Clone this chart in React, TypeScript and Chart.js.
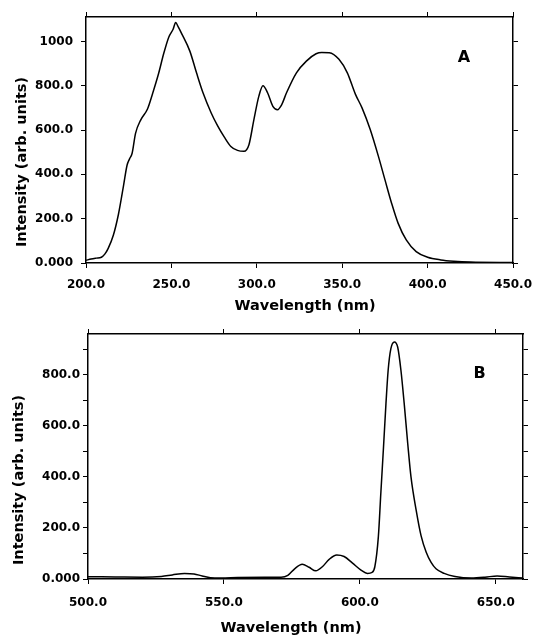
import React, { useEffect, useRef } from "react";
import { Chart, registerables } from "chart.js";

Chart.register(...registerables);

// Panel A: excitation spectrum
const wavelengthA = [
  200, 203, 206, 209, 211, 213, 216, 219, 222, 224, 225.5, 227, 229, 232, 236, 239, 242.5, 245.5,
  248.5, 251, 252.5, 254, 256, 260.8, 264.7, 268.5, 273.3, 277, 281, 284.8, 288.7, 292.5, 295.4,
  298.3, 301.2, 303.6, 306.3, 309.4, 312.1, 314.6, 317.4, 323.2, 329, 334.7, 338, 342.4, 348.1,
  353, 357.7, 361.6, 366.4, 371.2, 375, 378.9, 382.7, 387.5, 393.3, 400, 407.7, 415.3, 425, 450,
];
const intensityA = [
  12, 18, 22, 26, 40, 66, 125, 220, 350, 440, 470, 495, 585, 645, 695, 765, 855, 945,
  1020, 1055, 1085, 1065, 1035, 956, 858, 768, 677, 620, 568, 526, 508, 504, 534,
  647, 753, 800, 768, 707, 692, 715, 768, 858, 911, 944, 950, 949, 919,
  858, 762, 700, 602, 481, 376, 270, 180, 104, 51, 26, 14, 8, 4, 2,
];

// Panel B: emission spectrum
const wavelengthB = [
  500, 510, 520, 527, 531, 535.5, 539, 542, 545, 549, 555, 565, 571, 573.5, 576, 578.8, 581.3,
  583.8, 586.2, 588.7, 591.5, 594.2, 597.3, 600.4, 602.8, 604.5, 605.5, 606.8, 607.7, 608.7,
  609.6, 610.4, 611.4, 612.7, 613.9, 615.1, 616.3, 617.6, 618.8, 620.7, 622.5, 624.4, 626.2,
  628, 631, 635, 641, 646, 650.5, 655, 660,
];
const intensityB = [
  9, 8, 7, 10, 16, 22, 20, 12, 5, 4, 6, 7, 7, 14, 40, 58, 46,
  32, 48, 77, 94, 88, 62, 35, 22, 26, 48, 166, 335, 518,
  688, 818, 903, 929, 909, 818, 688, 531, 400, 270, 170, 105, 65,
  40, 22, 10, 4, 7, 12, 8, 4,
];

const axisTitleX = "Wavelength (nm)";
const axisTitleY = "Intensity (arb. units)";

const tickFont = { family: "DejaVu Sans", size: 12, weight: "bold" as const };
const titleFont = "bold 14.5px 'DejaVu Sans'";
const letterFont = "bold 16px 'DejaVu Sans'";

const fmtX = (v: number) => v.toFixed(1);
const fmtYA = (v: number) => (v === 0 ? "0.000" : v >= 1000 ? String(v) : v.toFixed(1));
const fmtYB = (v: number) => (v % 200 !== 0 ? "" : v === 0 ? "0.000" : v.toFixed(1));

type TextItem = { text: string; x: number; y: number; rot?: number; font: string; baseline: CanvasTextBaseline };

function textPlugin(items: TextItem[]) {
  return {
    id: "panelText",
    afterDraw(chart: any) {
      const ctx = chart.ctx as CanvasRenderingContext2D;
      items.forEach((it) => {
        ctx.save();
        ctx.font = it.font;
        ctx.fillStyle = "#000";
        ctx.textAlign = "center";
        ctx.textBaseline = it.baseline;
        ctx.translate(it.x, it.y);
        if (it.rot) ctx.rotate(it.rot);
        ctx.fillText(it.text, 0, 0);
        ctx.restore();
      });
    },
  };
}

type PanelOpts = {
  xs: number[];
  ys: number[];
  xmin: number;
  xmax: number;
  ymax: number;
  ystep: number;
  fmtY: (v: number) => string;
  left: number;
  right: number;
  top: number;
  bottom: number;
  xPad: number;
  yPad: number;
  texts: TextItem[];
};

function makeConfig(p: PanelOpts): any {
  const grid = {
    display: true,
    drawOnChartArea: false,
    drawTicks: true,
    tickLength: 5,
    color: "#000",
    lineWidth: 1,
  };
  const border = { display: true, color: "#000", width: 1.5 };
  return {
    type: "line",
    data: {
      datasets: [
        {
          data: p.xs.map((x, i) => ({ x, y: p.ys[i] })),
          borderColor: "#000",
          borderWidth: 1.5,
          pointRadius: 0,
          fill: false,
          cubicInterpolationMode: "monotone",
          xAxisID: "x",
          yAxisID: "y",
        },
      ],
    },
    options: {
      responsive: false,
      animation: false,
      devicePixelRatio: 1,
      layout: { padding: 0 },
      plugins: { legend: { display: false }, tooltip: { enabled: false } },
      scales: {
        x: {
          type: "linear",
          axis: "x",
          position: "bottom",
          min: p.xmin,
          max: p.xmax,
          ticks: {
            stepSize: 50,
            includeBounds: false,
            callback: (v: number) => fmtX(v),
            font: tickFont,
            color: "#000",
            padding: p.xPad,
            maxRotation: 0,
          },
          grid,
          border,
          afterFit: (s: any) => {
            s.height = p.bottom;
          },
        },
        x2: {
          type: "linear",
          axis: "x",
          position: "top",
          min: p.xmin,
          max: p.xmax,
          ticks: { stepSize: 50, includeBounds: false, display: false },
          grid,
          border,
          afterFit: (s: any) => {
            s.height = p.top;
          },
        },
        y: {
          type: "linear",
          axis: "y",
          position: "left",
          min: 0,
          max: p.ymax,
          ticks: {
            stepSize: p.ystep,
            includeBounds: false,
            callback: (v: number) => p.fmtY(v),
            font: tickFont,
            color: "#000",
            padding: p.yPad,
          },
          grid,
          border,
          afterFit: (s: any) => {
            s.width = p.left;
          },
        },
        y2: {
          type: "linear",
          axis: "y",
          position: "right",
          min: 0,
          max: p.ymax,
          ticks: { stepSize: p.ystep, includeBounds: false, display: false },
          grid,
          border,
          afterFit: (s: any) => {
            s.width = p.right;
          },
        },
      },
    },
    plugins: [textPlugin(p.texts)],
  };
}

export default function App() {
  const refA = useRef<HTMLCanvasElement>(null);
  const refB = useRef<HTMLCanvasElement>(null);

  useEffect(() => {
    const a = new Chart(
      refA.current!,
      makeConfig({
        xs: wavelengthA,
        ys: intensityA,
        xmin: 200,
        xmax: 450,
        ymax: 1110,
        ystep: 200,
        fmtY: fmtYA,
        left: 86,
        right: 22,
        top: 17,
        bottom: 55,
        xPad: 10,
        yPad: 8,
        texts: [
          { text: axisTitleX, x: 305, y: 310, font: titleFont, baseline: "alphabetic" },
          { text: axisTitleY, x: 22, y: 162, rot: -Math.PI / 2, font: titleFont, baseline: "middle" },
          { text: "A", x: 464, y: 62, font: letterFont, baseline: "alphabetic" },
        ],
      })
    );
    const b = new Chart(
      refB.current!,
      makeConfig({
        xs: wavelengthB,
        ys: intensityB,
        xmin: 500,
        xmax: 660,
        ymax: 960,
        ystep: 100,
        fmtY: fmtYB,
        left: 88,
        right: 19,
        top: 16,
        bottom: 56,
        xPad: 12,
        yPad: 3,
        texts: [
          { text: axisTitleX, x: 291, y: 632 - 318, font: titleFont, baseline: "alphabetic" },
          { text: axisTitleY, x: 19, y: 480 - 318, rot: -Math.PI / 2, font: titleFont, baseline: "middle" },
          { text: "B", x: 479.5, y: 378 - 318, font: letterFont, baseline: "alphabetic" },
        ],
      })
    );
    return () => {
      a.destroy();
      b.destroy();
    };
  }, []);

  return (
    <div style={{ position: "absolute", left: 0, top: 0, width: 542, height: 635, background: "#fff" }}>
      <canvas ref={refA} width={542} height={318} style={{ display: "block", position: "absolute", left: 0, top: 0 }} />
      <canvas ref={refB} width={542} height={317} style={{ display: "block", position: "absolute", left: 0, top: 318 }} />
    </div>
  );
}
